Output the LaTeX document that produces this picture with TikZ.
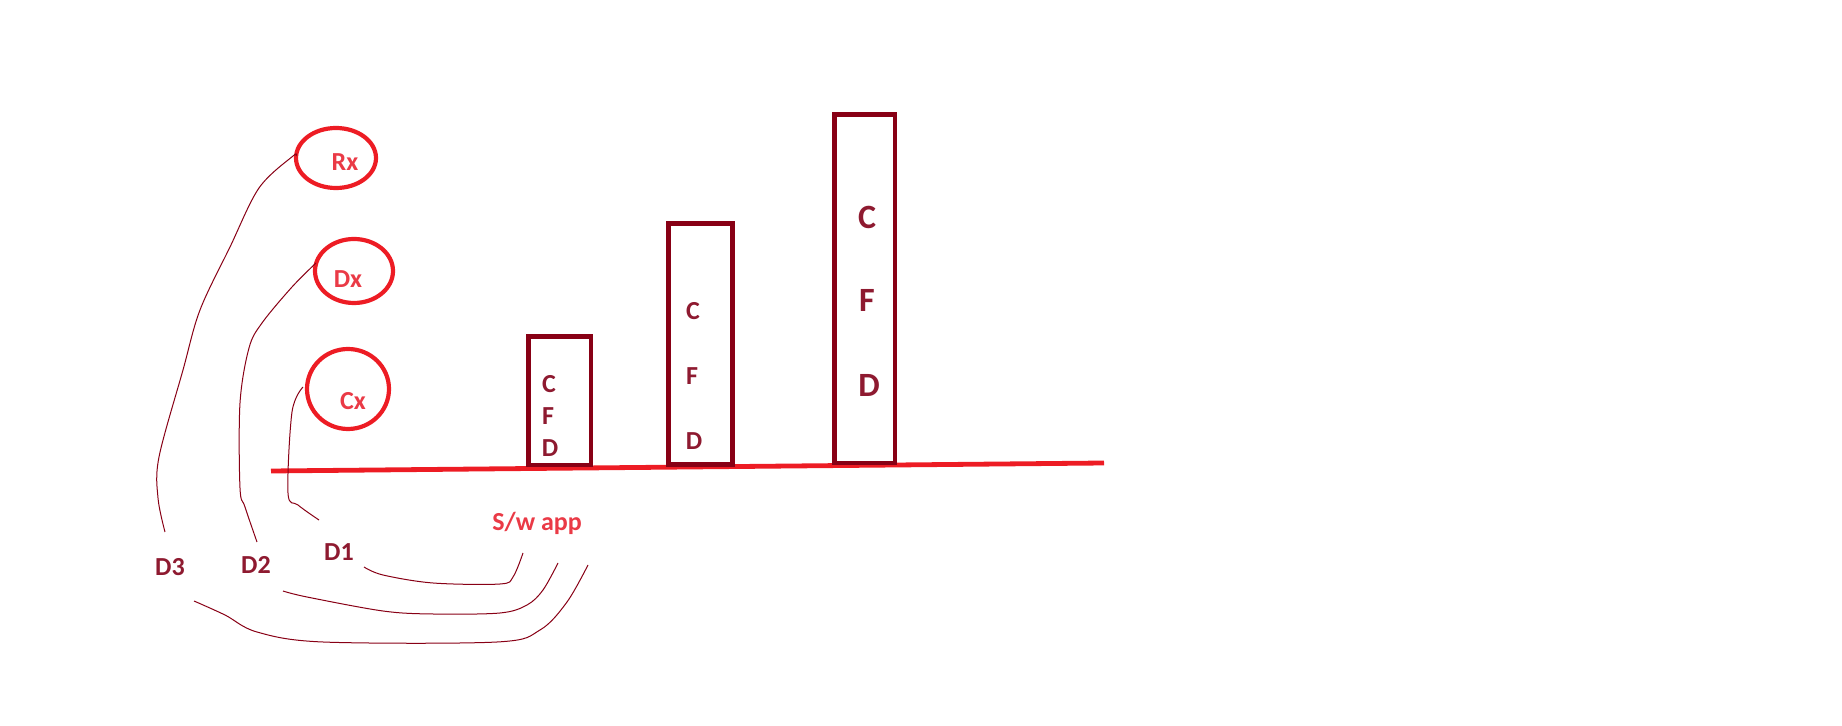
\documentclass[tikz,border=0pt]{standalone}
\usepackage{fontspec}
\setmainfont{Carlito}
\definecolor{pred}{HTML}{ED1C24}
\definecolor{tred}{HTML}{EA3A46}
\definecolor{dred}{HTML}{880015}
\definecolor{tdred}{HTML}{8E1A30}
\begin{document}
\begin{tikzpicture}[x=0.5pt,y=-0.5pt,
  bar/.style={draw=dred,line width=2.3pt},
  lbl/.style={text=tdred,font=\bfseries\fontsize{13}{15}\selectfont,inner sep=0pt},
  big/.style={lbl,font=\bfseries\fontsize{17}{19}\selectfont},
  olbl/.style={text=tred,font=\bfseries\fontsize{13}{15}\selectfont,inner sep=0pt},
  ring/.style={draw=pred,line width=2.1pt},
  wire/.style={draw=dred,line width=0.5pt}]
\useasboundingbox (0,0) rectangle (1842,726);
% ellipses
\draw[ring] (336,158) ellipse [x radius=40,y radius=30];
\draw[ring] (354,271) ellipse [x radius=39,y radius=32];
\draw[ring] (348,389) ellipse [x radius=41,y radius=40];
\node[olbl] (rx) at (345,162) {Rx};
\node[olbl] (dx) at (348,279) {Dx};
\node[olbl] (cx) at (353,401) {Cx};
% baseline
\coordinate (bl) at (271,471);
\coordinate (br) at (1104,463);
\draw[pred,line width=2.4pt] (bl) -- (br);
% bars
\draw[bar] (528.5,336.5) rectangle (591,465);
\draw[bar] (668.5,223.5) rectangle (732.5,464.5);
\draw[bar] (834.5,114.5) rectangle (895,463);
\node[lbl] (c1) at (549,384) {C};
\node[lbl] (f1) at (548,416) {F};
\node[lbl] (d1b) at (550,448) {D};
\node[lbl] (c2) at (693,311) {C};
\node[lbl] (f2) at (692,376) {F};
\node[lbl] (d2b) at (694,441) {D};
\node[big] (c3) at (867,217) {C};
\node[big] (f3) at (867,300) {F};
\node[big] (d3b) at (869,385) {D};
% labels
\node[lbl] (D3) at (170,567) {D3};
\node[lbl] (D2) at (256,565) {D2};
\node[lbl] (D1) at (339,552) {D1};
\node[olbl] (sw) at (537,523) {S/w app};
% wires
\draw[wire] plot[smooth,tension=0.55] coordinates {(296,156) (293,156) (259,188) (230,247) (200,310) (183,370) (159,457) (158,498) (165,532)};
\draw[wire] plot[smooth,tension=0.55] coordinates {(316,263) (292,287) (262,323) (249,348) (240,403) (240,488) (245,507) (257,542)};
\draw[wire] plot[smooth,tension=0.55] coordinates {(303,387) (292,412) (288,493) (298,505) (319,520)};
\draw[wire] plot[smooth,tension=0.55] coordinates {(364,567) (383,575) (433,583) (500,584) (513,577) (523,553)};
\draw[wire] plot[smooth,tension=0.55] coordinates {(283,591) (307,597) (383,611) (433,614) (500,613) (527,605) (543,590) (558,563)};
\draw[wire] plot[smooth,tension=0.55] coordinates {(194,601) (225,615) (257,632) (323,642) (497,642) (540,630) (567,602) (588,565)};
\end{tikzpicture}
\end{document}
